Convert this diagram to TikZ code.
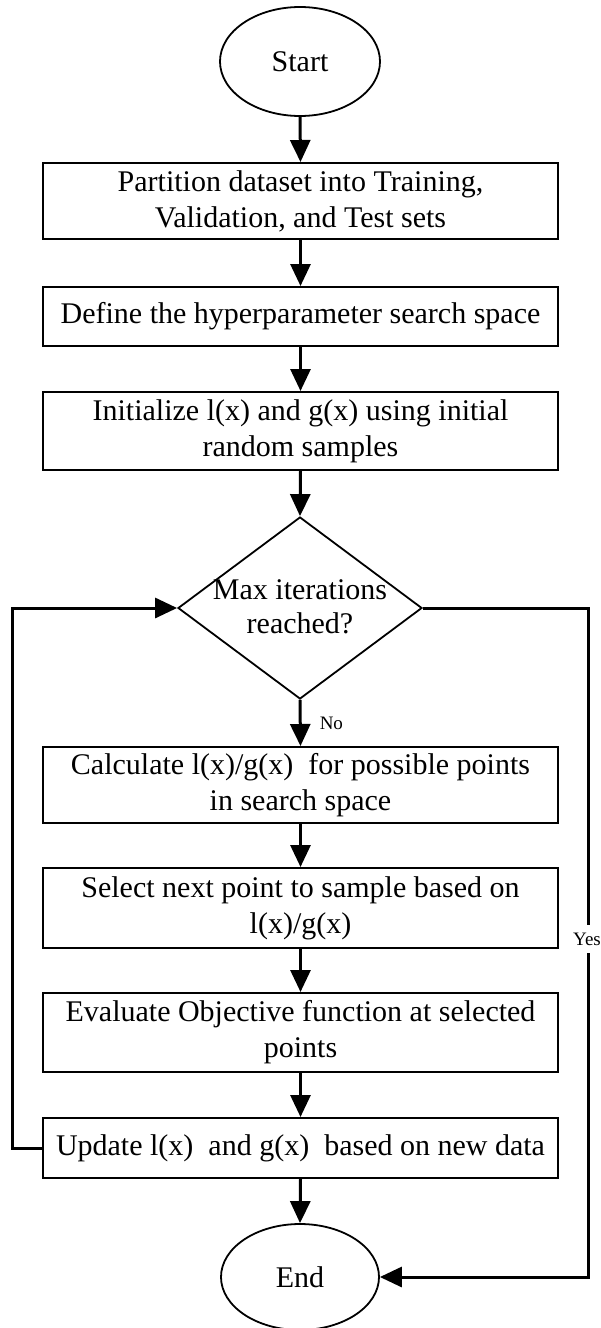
\documentclass[tikz,border=0pt]{standalone}
\usepackage{fontspec}
\setmainfont{Liberation Serif}
\usetikzlibrary{shapes.geometric,arrows.meta}

\tikzset{
  flowline/.style={line width=3pt,-{Triangle[length=22pt,width=20pt]}},
  terminal/.style={ellipse,draw,line width=1.8pt,inner sep=0pt,
    font=\fontsize{30}{36}\selectfont},
  process/.style={rectangle,draw,line width=2pt,minimum width=515pt,
    inner sep=0pt,align=center,font=\fontsize{30}{36}\selectfont},
  decision/.style={diamond,draw,line width=1.8pt,inner sep=0pt,
    minimum width=244pt,minimum height=182pt},
  decisiontext/.style={align=center,inner sep=0pt,
    font=\fontsize{30}{34}\selectfont},
  branchlabel/.style={font=\fontsize{19}{22}\selectfont,inner sep=2pt}
}

\begin{document}
\begin{tikzpicture}[x=1pt,y=-1pt]
  \useasboundingbox (0,0) rectangle (601,1328);

  % start and end terminals
  \node[terminal,minimum width=160pt,minimum height=109pt] (start) at (300,61.5) {Start};
  \node[terminal,minimum width=158pt,minimum height=106pt] (stop) at (300,1277) {End};

  % process steps
  \node[process,minimum height=76pt] (partition) at (300.5,201)
    {Partition dataset into Training,\\Validation, and Test sets};
  \node[process,minimum height=59pt] (space) at (300.5,316.5)
    {Define the hyperparameter search space};
  \node[process,minimum height=78pt] (init) at (300.5,431)
    {Initialize l(x) and g(x) using initial\\random samples};

  % loop test
  \node[decision] (check) at (300,608) {};
  \node[decisiontext] (checktext) at (300,607) {Max iterations\\reached?};

  \node[process,minimum height=76pt] (ratio) at (300.5,785)
    {Calculate l(x)/g(x) \ for possible points\\in search space};
  \node[process,minimum height=80pt] (select) at (300.5,908)
    {Select next point to sample based on\\l(x)/g(x)};
  \node[process,minimum height=79pt] (evaluate) at (300.5,1032.5)
    {Evaluate Objective function at selected\\points};
  \node[process,minimum height=60pt] (update) at (300.5,1148)
    {Update l(x) \ and g(x) \ based on new data};

  % bend points of the two side routes
  \coordinate (loopbottom) at (12,1148);
  \coordinate (looptop) at (12,608);
  \coordinate (exittop) at (588,608);
  \coordinate (exitbottom) at (588,1277);

  % main sequence
  \draw[flowline] (start.south) -- (partition.north);
  \draw[flowline] (partition.south) -- (space.north);
  \draw[flowline] (space.south) -- (init.north);
  \draw[flowline] (init.south) -- (check.north);
  \draw[flowline] (check.south) -- (ratio.north)
    node[branchlabel,pos=0.5,anchor=west,xshift=16pt] (nolabel) {No};
  \draw[flowline] (ratio.south) -- (select.north);
  \draw[flowline] (select.south) -- (evaluate.north);
  \draw[flowline] (evaluate.south) -- (update.north);
  \draw[flowline] (update.south) -- (stop.north);

  % repeat loop back to the test
  \draw[flowline] (update.west) -- (loopbottom) -- (looptop) -- (check.west);

  % exit route to the end
  \draw[flowline] (check.east) -- (exittop) -- (exitbottom) -- (stop.east);
  \node[branchlabel,fill=white,inner sep=1pt,minimum height=28pt] (yeslabel) at (587,939) {Yes};
\end{tikzpicture}
\end{document}
